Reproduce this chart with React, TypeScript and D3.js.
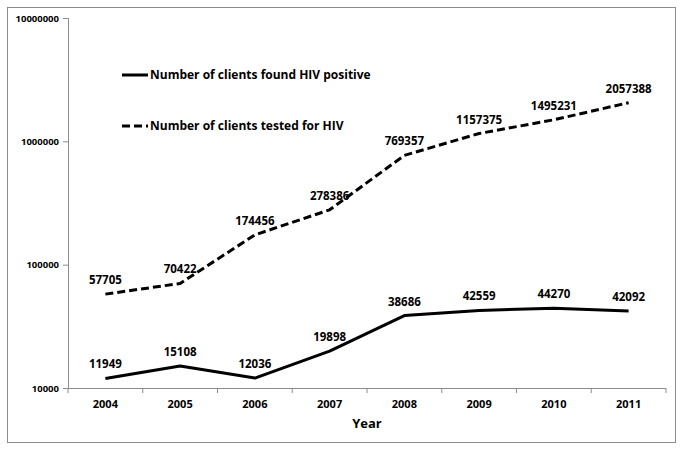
import React, { useEffect, useRef } from 'react';
import * as d3 from 'd3';

// chart data
const years: string[] = ['2004', '2005', '2006', '2007', '2008', '2009', '2010', '2011'];
const positive: number[] = [11949, 15108, 12036, 19898, 38686, 42559, 44270, 42092];
const tested: number[] = [57705, 70422, 174456, 278386, 769357, 1157375, 1495231, 2057388];
const yTicks: number[] = [10000, 100000, 1000000, 10000000];
const seriesNames: string[] = ['Number of clients found HIV positive', 'Number of clients tested for HIV'];

const FONT = "'Open Sans', 'DejaVu Sans', sans-serif";

const App = () => {
    const svgRef = useRef<SVGSVGElement>(null);

    useEffect(() => {
        const svg = d3.select(svgRef.current);
        svg.selectAll('*').remove();

        const width = 683;
        const height = 451;
        const margin = { top: 18, right: 17, bottom: 63, left: 68 };

        // outer frame
        svg.append('rect')
            .attr('x', 7.5).attr('y', 7.5)
            .attr('width', 668).attr('height', 435)
            .attr('fill', 'white')
            .attr('stroke', '#8c8c8c')
            .attr('stroke-width', 1);

        const x = d3.scaleBand<string>()
            .domain(years)
            .range([margin.left, width - margin.right]);

        const y = d3.scaleLog()
            .domain([10000, 10000000])
            .range([height - margin.bottom, margin.top]);

        // y axis
        const yAxis = svg.append('g')
            .attr('transform', `translate(${margin.left},0)`)
            .call(d3.axisLeft(y).tickValues(yTicks).tickFormat(d3.format('d')).tickSize(5).tickPadding(4));
        yAxis.select('.domain').attr('stroke', '#8c8c8c');
        yAxis.selectAll('line').attr('stroke', '#8c8c8c');
        yAxis.selectAll('text')
            .attr('font-family', FONT)
            .attr('font-weight', 'bold')
            .attr('font-size', 9.5)
            .attr('fill', '#000');

        // x axis with ticks between categories
        const xAxisG = svg.append('g')
            .attr('transform', `translate(0,${height - margin.bottom})`);
        xAxisG.append('line')
            .attr('x1', margin.left).attr('x2', width - margin.right)
            .attr('y1', 0.5).attr('y2', 0.5)
            .attr('stroke', '#8c8c8c');
        const bounds = years.map(d => x(d) as number).concat([width - margin.right]);
        xAxisG.selectAll('.tk')
            .data(bounds)
            .join('line')
            .attr('x1', d => d).attr('x2', d => d)
            .attr('y1', 0).attr('y2', 5)
            .attr('stroke', '#8c8c8c');
        xAxisG.selectAll('.lbl')
            .data(years)
            .join('text')
            .attr('x', d => (x(d) as number) + x.bandwidth() / 2)
            .attr('y', 20)
            .attr('text-anchor', 'middle')
            .attr('font-family', FONT)
            .attr('font-weight', 'bold')
            .attr('font-size', 11)
            .text(d => d);

        svg.append('text')
            .attr('x', (margin.left + width - margin.right) / 2)
            .attr('y', 428)
            .attr('text-anchor', 'middle')
            .attr('font-family', FONT)
            .attr('font-weight', 'bold')
            .attr('font-size', 13)
            .text('Year');

        const line = d3.line<number>()
            .x((d, i) => (x(years[i]) as number) + x.bandwidth() / 2)
            .y(d => y(d));

        const series = [
            { values: positive, dash: null },
            { values: tested, dash: '8,4' },
        ];

        series.forEach(s => {
            svg.append('path')
                .datum(s.values)
                .attr('d', line)
                .attr('fill', 'none')
                .attr('stroke', '#000')
                .attr('stroke-width', 3)
                .attr('stroke-linejoin', 'round')
                .attr('stroke-dasharray', s.dash);

            svg.append('g')
                .selectAll('text')
                .data(s.values)
                .join('text')
                .attr('x', (d, i) => (x(years[i]) as number) + x.bandwidth() / 2)
                .attr('y', d => y(d) - 10)
                .attr('text-anchor', 'middle')
                .attr('font-family', FONT)
                .attr('font-weight', 'bold')
                .attr('font-size', 11.5)
                .text(d => d);
        });

        // legend
        const legend = svg.selectAll('.legend')
            .data(seriesNames)
            .join('g')
            .attr('transform', (d, i) => `translate(122,${75 + i * 51})`);
        legend.append('line')
            .attr('x1', 0).attr('x2', 26)
            .attr('stroke', '#000')
            .attr('stroke-width', 3)
            .attr('stroke-dasharray', (d, i) => (i === 1 ? '8,4' : null));
        legend.append('text')
            .attr('x', 28)
            .attr('dy', '0.35em')
            .attr('font-family', FONT)
            .attr('font-weight', 'bold')
            .attr('font-size', 12)
            .text(d => d);
    }, []);

    return (
        <div>
            <svg ref={svgRef} width={683} height={451} style={{ position: 'absolute', left: 0, top: 0 }}></svg>
        </div>
    );
};

export default App;
